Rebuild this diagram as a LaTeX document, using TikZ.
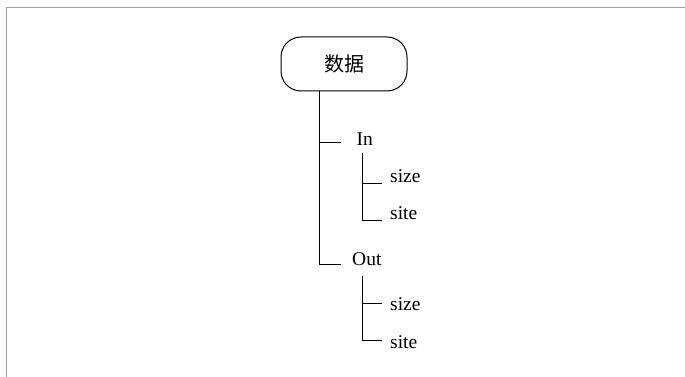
\documentclass[tikz,border=0pt]{standalone}
\usepackage{fontspec}
\setmainfont{Liberation Serif}
\newfontfamily\cjk{Noto Sans CJK SC}
\definecolor{framegray}{HTML}{A0A0A0}
\tikzset{
  rootbox/.style={draw, line width=1pt, rounded corners=20pt, minimum width=126pt, minimum height=54pt, inner sep=0pt, font=\cjk\fontsize{20}{20}\selectfont},
  lbl/.style={inner sep=0pt, font=\fontsize{19.5}{20}\selectfont, anchor=base west},
  conn/.style={draw, line width=1pt}
}
\begin{document}
\begin{tikzpicture}[x=1pt,y=-1pt]
\useasboundingbox (0,0) rectangle (685,377);
\draw[framegray, line width=1.5pt] (685,7.5) -- (6.5,7.5) -- (6.5,377);
\node[rootbox] (root) at (344,64) {数据};
\node[lbl] (in) at (356.5,146) {In};
\node[lbl] (size1) at (390,182.7) {size};
\node[lbl] (site1) at (390,219.3) {site};
\node[lbl] (out) at (352,265) {Out};
\node[lbl] (size2) at (390,310.7) {size};
\node[lbl] (site2) at (390,348.3) {site};
\coordinate (tIn) at (319,142.5);
\coordinate (eIn) at (341,142.5);
\coordinate (eOut) at (341,264);
\coordinate (sIn) at (362.3,153);
\coordinate (a1) at (382.3,183.3);
\coordinate (a2) at (382.3,220);
\coordinate (sOut) at (362.3,276);
\coordinate (b1) at (382.3,303.3);
\coordinate (b2) at (382.3,340.7);
\draw[conn] (root.south -| tIn) |- (eOut);
\draw[conn] (tIn) -- (eIn);
\draw[conn] (sIn) |- (a2);
\draw[conn] (sIn |- a1) -- (a1);
\draw[conn] (sOut) |- (b2);
\draw[conn] (sOut |- b1) -- (b1);
\end{tikzpicture}
\end{document}
